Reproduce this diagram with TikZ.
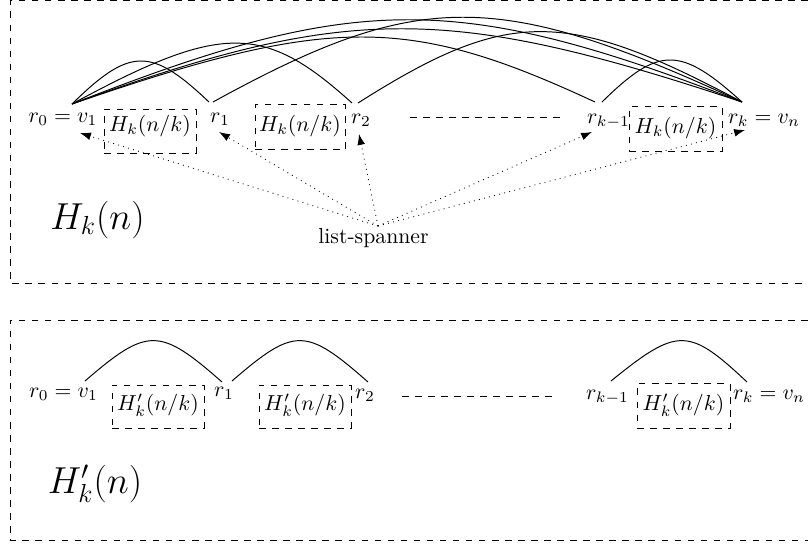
\documentclass[tikz,border=0pt]{standalone}
\usetikzlibrary{arrows.meta}
\begin{document}
\begin{tikzpicture}[x=0.46pt,y=-0.46pt,
  lbl/.style={inner sep=0pt, anchor=base},
  subbox/.style={draw, dashed, inner sep=0pt, anchor=base},
  edge/.style={line width=0.45pt},
  spanarrow/.style={dotted, -{Latex[length=5pt,width=3.6pt]}},
  frame/.style={dashed}]
\useasboundingbox (0,0) rectangle (808,544);

% frames
\draw[frame] (808,0.8) -- (10,0.8) -- (10,283) -- (808,283);
\draw[frame] (808,320) -- (10,320) -- (10,540) -- (808,540);

% ---------- top: H_k(n) ----------
\node[lbl] (r0) at (63,122) {$r_0 = v_1$};
\node[lbl] (r1) at (220,122) {$r_1$};
\node[lbl] (r2) at (361,123) {$r_2$};
\node[lbl] (rk1) at (608.5,123) {$r_{k-1}$};
\node[lbl] (rk) at (764,123) {$r_k = v_n$};
\node[subbox, minimum width=42.3pt, text height=10.4pt, text depth=9.8pt] (B1) at (150,131.7) {$H_k(n/k)$};
\node[subbox, minimum width=41.4pt, text height=12.0pt, text depth=8.7pt] (B2) at (300,131) {$H_k(n/k)$};
\node[subbox, minimum width=42.8pt, text height=12.0pt, text depth=8.7pt] (B3) at (675.5,133) {$H_k(n/k)$};

\coordinate (a0) at (72,104);
\coordinate (r1L) at (209,102);
\coordinate (r1R) at (213,102);
\coordinate (r2L) at (352,103);
\coordinate (r2R) at (358,103);
\coordinate (rk1L) at (595,102);
\coordinate (rk1R) at (602,102);
\coordinate (ak) at (742,102);

\draw[edge] (a0) .. controls (130,47) and (151,47) .. (r1L);
\draw[edge] (a0) .. controls (221.5,23) and (263.5,23) .. (r2L);
\draw[edge] (a0) .. controls (330,15) and (408,15) .. (rk1L);
\draw[edge] (a0) .. controls (357,-8) and (457,-8) .. (ak);
\draw[edge] (a0) .. controls (347.5,4) and (447.5,4) .. (ak);
\draw[edge] (r1R) .. controls (418.6,-11) and (497.6,-11) .. (ak);
\draw[edge] (r2R) .. controls (507.7,8) and (565.6,8) .. (ak);
\draw[edge] (rk1R) .. controls (659,46) and (680,46) .. (ak);

\coordinate (d1) at (410,117);
\coordinate (d2) at (565,117);
\draw[dashed] (d1) -- (d2);

\node[lbl] (ls) at (373.5,243) {list-spanner};
\coordinate (lsp) at (378,226);
\coordinate (t0) at (80,133);
\coordinate (t1) at (219,132);
\coordinate (t2) at (359,134);
\coordinate (t3) at (592,132);
\coordinate (t4) at (745,130);
\foreach \t in {t0,t1,t2,t3,t4} \draw[spanarrow] (lsp) -- (\t);

\node[lbl, font=\LARGE] (Hn) at (97.5,229) {$H_k(n)$};

% ---------- bottom: H'_k(n) ----------
\node[lbl] (s0) at (63.5,397) {$r_0 = v_1$};
\node[lbl] (s1) at (224,396) {$r_1$};
\node[lbl] (s2) at (365,398) {$r_2$};
\node[lbl] (sk1) at (607.5,399) {$r_{k-1}$};
\node[lbl] (sk) at (769,399) {$r_k = v_n$};
\node[subbox, minimum width=42.3pt, text height=11.5pt, text depth=8.3pt] (C1) at (158,410) {$H'_k(n/k)$};
\node[subbox, minimum width=42.3pt, text height=11.5pt, text depth=8.3pt] (C2) at (305,410) {$H'_k(n/k)$};
\node[subbox, minimum width=42.8pt, text height=12.0pt, text depth=8.3pt] (C3) at (683.5,410) {$H'_k(n/k)$};

\coordinate (b0) at (85,381);
\coordinate (b1L) at (222,382);
\coordinate (b1R) at (232,381);
\coordinate (b2L) at (368,382);
\coordinate (bk1R) at (611,381);
\coordinate (bk) at (747,382);
\draw[edge] (b0) .. controls (147.5,327) and (159.5,327) .. (b1L);
\draw[edge] (b1R) .. controls (294.5,327) and (305.5,327) .. (b2L);
\draw[edge] (bk1R) .. controls (677.5,327) and (688.5,327) .. (bk);

\coordinate (e1) at (402,396);
\coordinate (e2) at (557,396);
\draw[dashed] (e1) -- (e2);

\node[lbl, font=\LARGE] (Hpn) at (95,493) {$H'_k(n)$};
\end{tikzpicture}
\end{document}
